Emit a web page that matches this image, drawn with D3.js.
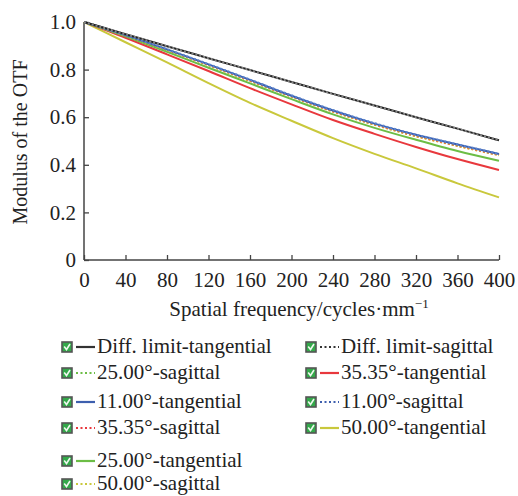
<!DOCTYPE html>
<html>
<head>
<meta charset="utf-8">
<script src="https://cdn.jsdelivr.net/npm/d3@7"></script>
<style>
  body { margin: 0; background: #fff; }
  text { font-family: "Liberation Serif", "Times New Roman", serif; fill: #222; }
</style>
</head>
<body>
<div id="chart"></div>
<script>
// spatial frequency samples (cycles/mm)
var freq = [0, 40, 80, 120, 160, 200, 240, 280, 320, 360, 400];

// modulus values
var diffTan = [1.0, 0.949, 0.898, 0.848, 0.798, 0.748, 0.698, 0.649, 0.600, 0.552, 0.503];
var diffSag = [1.0, 0.949, 0.898, 0.848, 0.798, 0.748, 0.698, 0.649, 0.600, 0.552, 0.503];
var tan11 = [1.0, 0.945, 0.885, 0.822, 0.757, 0.690, 0.628, 0.573, 0.526, 0.485, 0.445];
var sag11 = [1.0, 0.945, 0.886, 0.823, 0.758, 0.692, 0.630, 0.575, 0.527, 0.486, 0.446];
var tan25 = [1.0, 0.940, 0.875, 0.808, 0.742, 0.676, 0.612, 0.555, 0.505, 0.458, 0.417];
var sag25 = [1.0, 0.944, 0.884, 0.820, 0.754, 0.688, 0.626, 0.570, 0.522, 0.481, 0.442];
var tan35 = [1.0, 0.934, 0.864, 0.794, 0.722, 0.654, 0.588, 0.530, 0.475, 0.424, 0.378];
var sag35 = [1.0, 0.944, 0.883, 0.819, 0.753, 0.687, 0.624, 0.569, 0.521, 0.480, 0.441];
var tan50 = [1.0, 0.915, 0.830, 0.743, 0.660, 0.585, 0.512, 0.446, 0.385, 0.322, 0.263];
var sag50 = [1.0, 0.943, 0.882, 0.818, 0.752, 0.686, 0.623, 0.568, 0.520, 0.479, 0.440];

var xTicks = [0, 40, 80, 120, 160, 200, 240, 280, 320, 360, 400];
var yTicks = [0, 0.2, 0.4, 0.6, 0.8, 1.0];

// series in drawing order (bottom first)
var series = [
  {name: "50.00°-tangential", values: tan50, color: "#c9c83c", dash: null},
  {name: "35.35°-tangential", values: tan35, color: "#e8383d", dash: null},
  {name: "25.00°-tangential", values: tan25, color: "#6cbd45", dash: null},
  {name: "50.00°-sagittal", values: sag50, color: "#d4d24a", dash: "2,2"},
  {name: "25.00°-sagittal", values: sag25, color: "#7acb56", dash: "2,2"},
  {name: "35.35°-sagittal", values: sag35, color: "#f07a3a", dash: "2,2"},
  {name: "11.00°-tangential", values: tan11, color: "#3d5fae", dash: null},
  {name: "11.00°-sagittal", values: sag11, color: "#5a85d0", dash: "2,2"},
  {name: "Diff. limit-tangential", values: diffTan, color: "#222222", dash: null},
  {name: "Diff. limit-sagittal", values: diffSag, color: "#888888", dash: "2,2"}
];

// legend layout: [name, column, row]
var legendItems = [
  ["Diff. limit-tangential", 0, 0], ["Diff. limit-sagittal", 1, 0],
  ["25.00°-sagittal", 0, 1], ["35.35°-tangential", 1, 1],
  ["11.00°-tangential", 0, 2], ["11.00°-sagittal", 1, 2],
  ["35.35°-sagittal", 0, 3], ["50.00°-tangential", 1, 3],
  ["25.00°-tangential", 0, 4],
  ["50.00°-sagittal", 0, 5]
];
var legendLineColor = {
  "Diff. limit-tangential": "#333", "Diff. limit-sagittal": "#333",
  "25.00°-sagittal": "#6cbd45", "35.35°-tangential": "#e8383d",
  "11.00°-tangential": "#3d5fae", "11.00°-sagittal": "#3d5fae",
  "35.35°-sagittal": "#e8383d", "50.00°-tangential": "#c9c83c",
  "25.00°-tangential": "#6cbd45", "50.00°-sagittal": "#c9c83c"
};

var svg = d3.select("#chart").append("svg")
    .attr("width", 518)
    .attr("height", 496);

var margin = {top: 22, left: 84};
var width = 415, height = 238;

var g = svg.append("g")
    .attr("transform", "translate(" + margin.left + "," + margin.top + ")");

var x = d3.scaleLinear().domain([0, 400]).range([0, width]);
var y = d3.scaleLinear().domain([0, 1]).range([height, 0]);

// axes
var xAxis = d3.axisBottom(x).tickValues(xTicks).tickSize(-5).tickPadding(12)
    .tickFormat(d3.format("d"));
var yAxis = d3.axisLeft(y).tickValues(yTicks).tickSize(-5).tickPadding(8)
    .tickFormat(function(d) { return d === 0 ? "0" : d3.format(".1f")(d); });

var gx = g.append("g").attr("transform", "translate(0," + height + ")").call(xAxis);
var gy = g.append("g").call(yAxis);

[gx, gy].forEach(function(a) {
  a.select(".domain").attr("stroke", "#444").attr("stroke-width", 1.5);
  a.selectAll(".tick line").attr("stroke", "#444").attr("stroke-width", 1.3);
  a.selectAll(".tick text")
    .style("font-family", "Liberation Serif, serif")
    .style("font-size", "21px")
    .attr("fill", "#222");
});
gy.select(".domain").attr("d", "M0," + height + "V0");
gx.select(".domain").attr("d", "M0,0H" + width);

// lines
var line = d3.line()
    .x(function(d, i) { return x(freq[i]); })
    .y(function(d) { return y(d); })
    .curve(d3.curveMonotoneX);

g.selectAll(".series")
  .data(series)
  .enter()
  .append("path")
  .attr("class", "series")
  .attr("d", function(s) { return line(s.values); })
  .attr("fill", "none")
  .attr("stroke", function(s) { return s.color; })
  .attr("stroke-width", 2)
  .attr("stroke-dasharray", function(s) { return s.dash; });

// axis titles
svg.append("text")
  .attr("x", 299)
  .attr("y", 316)
  .attr("text-anchor", "middle")
  .style("font-size", "21px")
  .html("Spatial frequency/cycles·mm<tspan dy='-8' font-size='13'>−1</tspan>");

svg.append("text")
  .attr("transform", "translate(27,142) rotate(-90)")
  .attr("text-anchor", "middle")
  .style("font-size", "20px")
  .text("Modulus of the OTF");

// legend
var colX = [62, 306];
var rowY = [347, 373, 402, 428, 461, 484];

var leg = svg.append("g").selectAll("g")
  .data(legendItems)
  .enter()
  .append("g")
  .attr("transform", function(d) { return "translate(" + colX[d[1]] + "," + rowY[d[2]] + ")"; });

leg.append("rect")
  .attr("x", 0).attr("y", -5).attr("width", 10).attr("height", 10)
  .attr("fill", "#34a84a").attr("stroke", "#555").attr("stroke-width", 1.6);
leg.append("path")
  .attr("d", "M2.2,-0.5 L4.5,2.5 L8,-3")
  .attr("fill", "none").attr("stroke", "#eef8ee").attr("stroke-width", 1.6);

leg.append("line")
  .attr("x1", 14).attr("x2", 33).attr("y1", 0).attr("y2", 0)
  .attr("stroke", function(d) { return legendLineColor[d[0]]; })
  .attr("stroke-width", 2.2)
  .attr("stroke-dasharray", function(d) { return d[0].indexOf("sagittal") >= 0 ? "2,2.5" : null; });

leg.append("text")
  .attr("x", 35)
  .attr("y", 6)
  .style("font-size", "21px")
  .text(function(d) { return d[0]; });
</script>
</body>
</html>
